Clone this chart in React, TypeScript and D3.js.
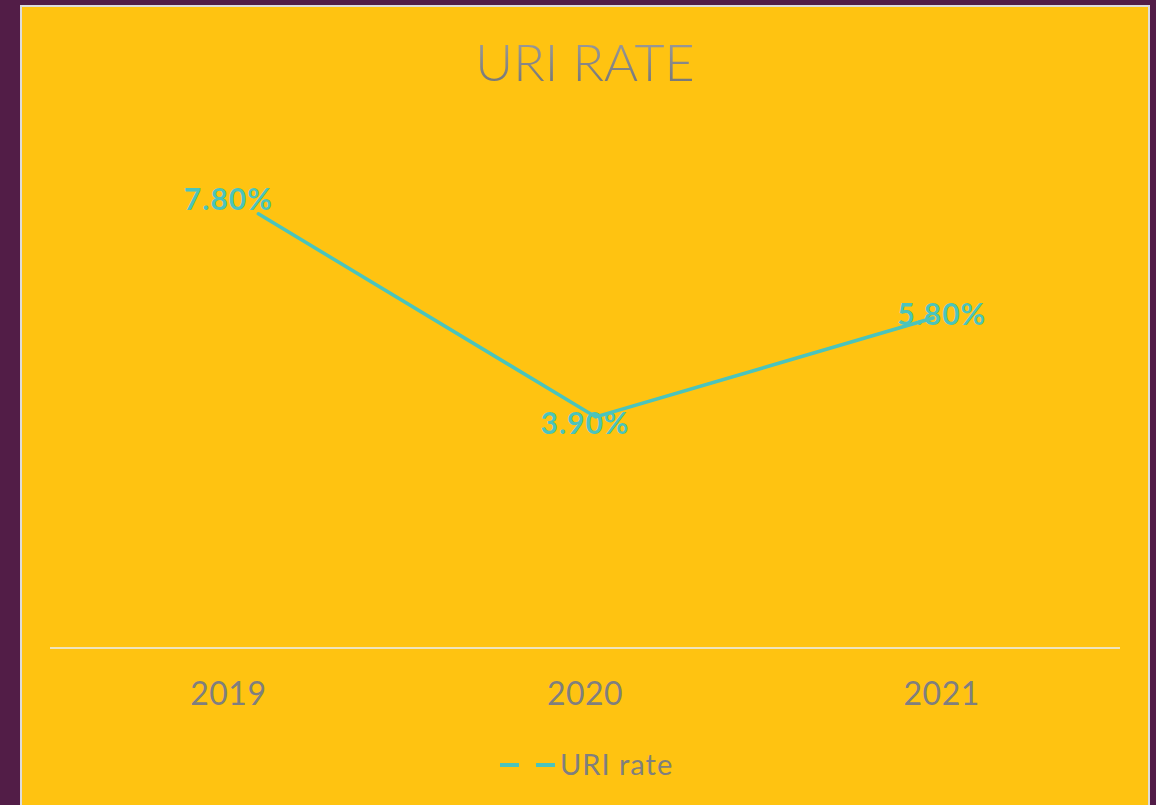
import React from 'react';
import * as d3 from 'd3';

const years = ['2019', '2020', '2021'];
const uriRate = [7.8, 3.9, 5.8];
const seriesName = 'URI rate';
const chartTitle = 'URI RATE';

const W = 1156;
const H = 805;
const margin = { top: 131, right: 36, bottom: 157, left: 50 };

export default function App() {
  const x = d3
    .scaleBand()
    .domain(years)
    .range([margin.left, W - margin.right])
    .padding(0);
  const y = d3.scaleLinear().domain([0, 9]).range([H - margin.bottom, margin.top]);

  // the series line is drawn slightly skewed, like the original render
  const cx = (d: string) => (x(d) as number) + x.bandwidth() / 2;
  const xLine = d3
    .scalePoint()
    .domain(years)
    .range([cx(years[0]) * 0.9356 + 44.7, cx(years[years.length - 1]) * 0.9356 + 52]);
  const yLine = d3
    .scaleLinear()
    .domain(y.domain())
    .range(y.range().map((v) => v * 0.9068 + 32.5));

  const line = d3
    .line<number>()
    .x((_, i) => xLine(years[i]) as number)
    .y((d) => yLine(d));

  const teal = '#4BC4BC';
  const grey = '#7F7F7F';
  const font = 'Lato, sans-serif';

  return (
    <svg
      width={W}
      height={H}
      style={{ position: 'absolute', left: 0, top: 0, display: 'block' }}
    >
      <defs>
        <linearGradient id="titleGrad" x1="0" y1="0" x2="0" y2="1">
          <stop offset="0%" stopColor="#A3A3A3" />
          <stop offset="100%" stopColor="#707070" />
        </linearGradient>
      </defs>
      <rect x={0} y={0} width={W} height={H} fill="#521D47" />
      <rect x={21} y={6} width={1128} height={830} fill="#FFC311" stroke="#DCDCDC" strokeWidth={2} />

      <text
        x={(margin.left + W - margin.right) / 2}
        y={81}
        textAnchor="middle"
        fontFamily={font}
        fontWeight={300}
        fontSize={52}
        fill="url(#titleGrad)"
      >
        {chartTitle}
      </text>

      <line
        x1={margin.left}
        x2={W - margin.right}
        y1={y(0)}
        y2={y(0)}
        stroke="#EFE4BC"
        strokeWidth={2}
      />

      {years.map((d) => (
        <text
          key={d}
          x={cx(d)}
          y={y(0) + 57}
          textAnchor="middle"
          fontFamily={font}
          fontSize={32}
          letterSpacing={0.5}
          fill={grey}
        >
          {d}
        </text>
      ))}

      <path d={line(uriRate) || ''} fill="none" stroke={teal} strokeWidth={3.5} strokeLinecap="round" />

      {uriRate.map((v, i) => (
        <text
          key={years[i]}
          x={cx(years[i])}
          y={y(v)}
          dy="0.35em"
          textAnchor="middle"
          fontFamily={font}
          fontWeight={700}
          fontSize={30}
          letterSpacing={1}
          fill={teal}
        >
          {d3.format('.2f')(v) + '%'}
        </text>
      ))}

      <g transform="translate(500,765)">
        <line x1={0} x2={56} y1={0} y2={0} stroke={teal} strokeWidth={4} strokeDasharray="19 17" />
        <text x={60} y={10} fontFamily={font} fontSize={29} letterSpacing={1} fill={grey}>
          {seriesName}
        </text>
      </g>
    </svg>
  );
}
